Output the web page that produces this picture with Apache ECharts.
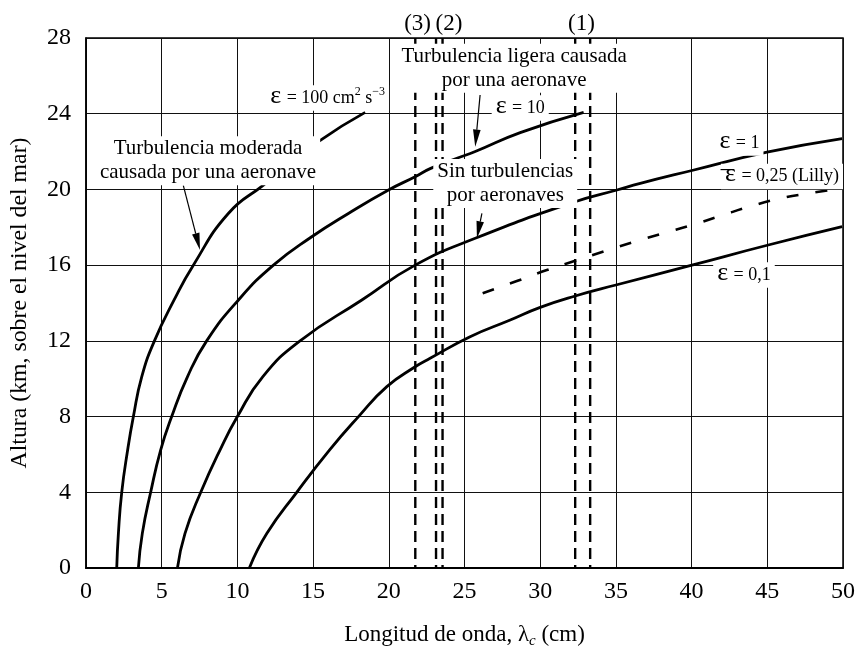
<!DOCTYPE html>
<html>
<head>
<meta charset="utf-8">
<script src="https://cdn.jsdelivr.net/npm/echarts@6/dist/echarts.min.js"></script>
<style>
html,body{margin:0;padding:0;background:#fff;overflow:hidden;}
#chart{width:856px;height:648px;}
</style>
</head>
<body>
<div id="chart"></div>
<script>
// ---- data (wavelength cm, altitude km) ----
const eps100 = [[2.03,0],[2.14,1.83],[2.36,4],[2.75,6.23],[3.13,8],[3.68,10.1],[4.52,12],[5.82,14.16],[7.09,16],[9.4,18.73],[11.72,20.23],[15.35,22.52],[18.44,24.07]];
const eps10 = [[3.46,0],[3.72,1.83],[4.27,4],[4.93,6.23],[5.66,8],[6.7,10.1],[7.97,12],[10.07,14.16],[12.38,16],[14.91,17.5],[17.33,18.73],[19.98,19.97],[21.74,20.67],[22.73,21.1],[24.5,21.65],[25.71,22.0],[28.68,23.0],[32.87,24.07]];
const eps1 = [[6.04,0],[6.54,1.83],[7.58,4],[8.85,6.23],[10.0,8],[11.67,10.1],[14.14,12],[18.22,14.16],[21.74,16.0],[25.71,17.42],[32.3,19.35],[35.07,19.97],[36.61,20.32],[40.02,21.0],[44.98,21.97],[49.94,22.69]];
const eps01 = [[10.79,0],[11.95,1.83],[13.92,4],[16.08,6.23],[18.0,8],[19.87,9.58],[21.74,10.63],[22.73,11.08],[25.37,12.22],[28.02,13.1],[30.0,13.77],[32.31,14.37],[35.0,14.95],[40.02,16.0],[45.0,17.05],[49.94,18.03]];
const lilly = [[26.2,14.52],[28.46,15.16],[30.44,15.74],[32.31,16.23],[34.3,16.75],[36.23,17.24],[38.21,17.7],[40.02,18.12],[41.94,18.61],[43.81,19.09],[45.68,19.49],[47.67,19.79],[49.7,20.02]];
const radarLambdas = [21.75, 23.12, 23.55, 32.31, 33.3];
const xTicks = [0,5,10,15,20,25,30,35,40,45,50];
const yTicks = [0,4,8,12,16,20,24,28];

// ---- annotation texts ----
const labelTexts = [
  '(3)', '(2)', '(1)',
  'Turbulencia ligera causada\npor una aeronave',
  'Turbulencia moderada\ncausada por una aeronave',
  'Sin turbulencias\npor aeronaves',
  '{e|ε}{t| = 100 cm}{sup|2}{t| s}{sup|−3}',
  '{e|ε}{t| = 10}',
  '{e|ε}{t| = 1}',
  '{e|ε}{t| = 0,25 (Lilly)}',
  '{e|ε}{t| = 0,1}',
  '{bar|¯}'
];
// anchor positions (data coords) for the texts above
const labelAnchors = [
  [21.9,28.74],[23.97,28.74],[32.72,28.74],
  [28.28,26.4],[8.06,21.52],[27.69,20.31],
  [15.96,24.83],[28.68,24.3],[43.16,22.45],[45.97,20.68],[43.46,15.48],
  [42.36,20.45]
];
// arrows: [fromX, fromY, toX, toY]
const arrows = [[6.43,20.2,7.53,16.8],[26.03,24.99,25.71,22.26],[26.15,18.74,25.82,17.42]];

const FONT = 'Liberation Serif';
const chart = echarts.init(document.getElementById('chart'));

const curveStyle = {color:'#000', width:2.8};
function curve(name, data){
  return {name, type:'line', data, smooth:0.5, showSymbol:false, symbol:'none',
    lineStyle:curveStyle, z:3, silent:true, animation:false};
}
const vlines = radarLambdas.map(x => ({
  type:'line', data:[[x,28],[x,0]], showSymbol:false, symbol:'none',
  lineStyle:{color:'#000', width:2.4, type:[11,6]}, z:2, silent:true, animation:false
}));

const richStyles = {
  e:{fontFamily:FONT, fontSize:26, color:'#000', padding:[0,1,4,0]},
  t:{fontFamily:FONT, fontSize:18, color:'#000'},
  sup:{fontFamily:FONT, fontSize:12, color:'#000', padding:[0,0,12,0]},
  bar:{fontFamily:FONT, fontSize:26, color:'#000'}
};

const labelData = labelTexts.map((txt, i) => {
  const plain = i < 3 || i === labelTexts.length - 1;
  return {
    value: labelAnchors[i],
    label: {
      show:true, position:'inside', formatter: txt,
      fontFamily:FONT, fontSize: i < 3 ? 23 : 21, lineHeight: 23.5, color:'#000',
      align:'center', verticalAlign:'middle',
      backgroundColor: plain ? 'transparent' : '#fff',
      padding: plain ? 0 : [1,4,1,4],
      rich: richStyles
    }
  };
});

const option = {
  backgroundColor:'#fff',
  animation:false,
  grid:{left:86, right:13, top:38, bottom:80, show:true, borderColor:'#000', borderWidth:1.5,
    containLabel:false, outerBoundsMode:'none'},
  xAxis:{
    type:'value', min:0, max:50, interval:5,
    name:'Longitud de onda, λ{sub|c} (cm)', nameLocation:'middle', nameGap:52,
    nameTextStyle:{fontFamily:FONT, fontSize:23, color:'#000',
      rich:{sub:{fontFamily:FONT, fontSize:15, fontStyle:'italic', color:'#000', padding:[14,0,0,0]}}},
    axisLine:{show:true, lineStyle:{color:'#000', width:2}},
    axisTick:{show:false},
    axisLabel:{fontFamily:FONT, fontSize:24, color:'#000', margin:12,
      formatter: v => xTicks.indexOf(v) >= 0 ? String(v) : ''},
    splitLine:{show:true, lineStyle:{color:'#111', width:1}}
  },
  yAxis:{
    type:'value', min:0, max:28, interval:4,
    name:'Altura (km, sobre el nivel del mar)', nameLocation:'middle', nameGap:54,
    nameTextStyle:{fontFamily:FONT, fontSize:23.8, color:'#000'},
    axisLine:{show:true, lineStyle:{color:'#000', width:1.5}},
    axisTick:{show:false},
    axisLabel:{fontFamily:FONT, fontSize:24, color:'#000', margin:15,
      formatter: v => yTicks.indexOf(v) >= 0 ? String(v) : ''},
    splitLine:{show:true, lineStyle:{color:'#111', width:1}}
  },
  series:[
    curve('ε=100', eps100),
    curve('ε=10', eps10),
    curve('ε=1', eps1),
    curve('ε=0,1', eps01),
    {name:'Lilly', type:'line', data:lilly, smooth:0.5, showSymbol:false, symbol:'none',
      lineStyle:{color:'#000', width:2.6, type:[12,17]}, z:3, silent:true},
    ...vlines,
    {
      type:'custom', data:arrows, z:6, silent:true, clip:false,
      renderItem:(params, api) => {
        const p1 = api.coord([api.value(0), api.value(1)]);
        const p2 = api.coord([api.value(2), api.value(3)]);
        const dx=p2[0]-p1[0], dy=p2[1]-p1[1], len=Math.hypot(dx,dy);
        const ux=dx/len, uy=dy/len, hl=17, hw=3.8;
        const b=[p2[0]-ux*hl, p2[1]-uy*hl];
        return {type:'group', children:[
          {type:'line', shape:{x1:p1[0],y1:p1[1],x2:b[0],y2:b[1]}, style:{stroke:'#000', lineWidth:1.2}},
          {type:'polygon', shape:{points:[p2,[b[0]-uy*hw,b[1]+ux*hw],[b[0]+uy*hw,b[1]-ux*hw]]}, style:{fill:'#000'}}
        ]};
      }
    },
    {type:'scatter', data:labelData, symbolSize:0, z:20, clip:false, silent:true,
      itemStyle:{opacity:1}}
  ]
};
chart.setOption(option);
</script>
</body>
</html>
